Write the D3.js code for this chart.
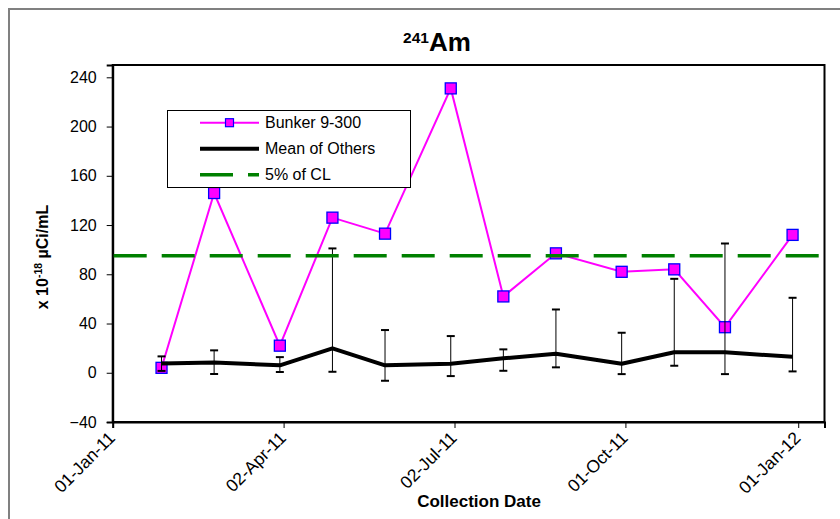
<!DOCTYPE html>
<html>
<head>
<meta charset="utf-8">
<script src="https://cdn.jsdelivr.net/npm/d3@7"></script>
<style>
  html, body { margin: 0; padding: 0; background: #fff; }
  svg { display: block; font-family: "Liberation Sans", Arial, sans-serif; }
</style>
</head>
<body>
<svg id="chart" width="840" height="519"></svg>
<script>
// ---- data ----
const sampleDates = ["27-Jan-11","24-Feb-11","31-Mar-11","28-Apr-11","26-May-11","30-Jun-11",
                     "28-Jul-11","25-Aug-11","29-Sep-11","27-Oct-11","23-Nov-11","29-Dec-11"];
const bunkerValues = [4, 146, 22, 126, 113, 231, 62, 97, 82, 84, 37, 112];
const meanOthers   = [7.6, 8.4, 6, 19.8, 6, 7.3, 11.7, 15.4, 7.3, 16.6, 16.6, 13];
const errLow       = [1.5, -1, 0.6, 0.8, -6.5, -2.7, 1.6, 4.4, -1.1, 5.7, -1.1, 1.1];
const errHigh      = [13.3, 18.2, 12.7, 101, 34.7, 29.8, 19, 51.4, 32.5, 76.3, 105, 60.9];
const clValue = 95;
const yTicks = [-40, 0, 40, 80, 120, 160, 200, 240];
const xTickLabels = ["01-Jan-11","02-Apr-11","02-Jul-11","01-Oct-11","01-Jan-12"];
const legendLabels = ["Bunker 9-300", "Mean of Others", "5% of CL"];

const parse = d3.utcParse("%d-%b-%y");
const fmt = d3.utcFormat("%d-%b-%y");

const svg = d3.select("#chart");
const pLeft = 112.7, pRight = 824.5, pTop = 65, pBottom = 422;

const x0 = parse("01-Jan-11");
const x1 = d3.utcDay.offset(x0, 379);
const x = d3.scaleUtc().domain([x0, x1]).range([pLeft, pRight]);
const y = d3.scaleLinear().domain([-40, 250]).range([pBottom, pTop]);

// outer chart frame
svg.append("rect").attr("x", 9).attr("y", 9).attr("width", 900).attr("height", 600)
  .attr("fill", "#fff").attr("stroke", "#808080").attr("stroke-width", 2);

// title
const title = svg.append("text").attr("x", 437).attr("y", 51)
  .attr("text-anchor", "middle").attr("font-weight", "bold");
title.append("tspan").attr("font-size", 15.5).attr("dy", -8).text("241");
title.append("tspan").attr("font-size", 26).attr("dy", 8).text("Am");

// plot frame
svg.append("rect").attr("x", pLeft).attr("y", pTop).attr("width", pRight - pLeft).attr("height", pBottom - pTop)
  .attr("fill", "none").attr("stroke", "#000").attr("stroke-width", 2);

// y axis
const yAxis = svg.append("g").attr("transform", `translate(${pLeft},0)`)
  .call(d3.axisLeft(y).tickValues(yTicks).tickSize(6).tickPadding(10).tickFormat(d3.format("d")));
yAxis.select(".domain").attr("stroke", "#000").attr("stroke-width", 2);
yAxis.selectAll(".tick line").attr("stroke", "#000").attr("stroke-width", 1);
yAxis.selectAll(".tick text").attr("font-size", 16).attr("fill", "#000")
  .attr("font-family", "Liberation Sans, Arial, sans-serif");

// x axis
const xAxis = svg.append("g").attr("transform", `translate(0,${pBottom})`)
  .call(d3.axisBottom(x).tickValues(xTickLabels.map(parse)).tickSize(6).tickFormat(fmt));
xAxis.select(".domain").attr("stroke", "#000").attr("stroke-width", 2);
xAxis.selectAll(".tick line").attr("stroke", "#000").attr("stroke-width", 1);
xAxis.selectAll(".tick text")
  .attr("font-size", 17.5).attr("fill", "#000")
  .attr("font-family", "Liberation Sans, Arial, sans-serif")
  .attr("text-anchor", "end")
  .attr("y", 0).attr("dy", 0)
  .attr("transform", "translate(3,17) rotate(-45)");

// axis titles
svg.append("text").attr("x", 479).attr("y", 507).attr("text-anchor", "middle")
  .attr("font-weight", "bold").attr("font-size", 17).text("Collection Date");
const ylab = svg.append("text").attr("transform", "translate(48,257) rotate(-90)")
  .attr("text-anchor", "middle").attr("font-weight", "bold").attr("font-size", 16);
ylab.append("tspan").text("x 10");
ylab.append("tspan").attr("font-size", 10.5).attr("dy", -6).text("-18");
ylab.append("tspan").attr("dy", 6).text(" \u00B5Ci/mL");

const pts = sampleDates.map((d, i) => ({
  date: parse(d), b: bunkerValues[i], m: meanOthers[i], lo: errLow[i], hi: errHigh[i]
}));

// Bunker series
svg.append("path").datum(pts)
  .attr("fill", "none").attr("stroke", "#FF00FF").attr("stroke-width", 2)
  .attr("d", d3.line().x(d => x(d.date)).y(d => y(d.b)));
const ms = 11;
svg.selectAll(".bmark").data(pts).enter().append("rect")
  .attr("x", d => x(d.date) - ms / 2).attr("y", d => y(d.b) - ms / 2)
  .attr("width", ms).attr("height", ms)
  .attr("fill", "#FF00FF").attr("stroke", "#0000FF").attr("stroke-width", 1.3);

// Mean of others
svg.append("path").datum(pts)
  .attr("fill", "none").attr("stroke", "#000").attr("stroke-width", 4)
  .attr("stroke-linejoin", "round")
  .attr("d", d3.line().x(d => x(d.date)).y(d => y(d.m)));
const eb = svg.append("g");
pts.forEach(d => {
  const cx = x(d.date);
  eb.append("line").attr("x1", cx).attr("x2", cx).attr("y1", y(d.lo)).attr("y2", y(d.hi))
    .attr("stroke", "#000").attr("stroke-width", 1);
  [d.lo, d.hi].forEach(v => {
    eb.append("line").attr("x1", cx - 4).attr("x2", cx + 4).attr("y1", y(v)).attr("y2", y(v))
      .attr("stroke", "#000").attr("stroke-width", 2);
  });
});

// 5% of CL
svg.append("line").attr("x1", pLeft + 1).attr("x2", pRight - 1).attr("y1", y(clValue)).attr("y2", y(clValue))
  .attr("stroke", "#008000").attr("stroke-width", 3.5).attr("stroke-dasharray", "33,15");

// legend
const lg = svg.append("g");
lg.append("rect").attr("x", 167.5).attr("y", 110.5).attr("width", 243).attr("height", 77)
  .attr("fill", "#fff").attr("stroke", "#000").attr("stroke-width", 1);
const ly = [122.7, 148.7, 174.7];
lg.append("line").attr("x1", 200).attr("x2", 259).attr("y1", ly[0]).attr("y2", ly[0])
  .attr("stroke", "#FF00FF").attr("stroke-width", 2);
lg.append("rect").attr("x", 225.5).attr("y", ly[0] - 4).attr("width", 8).attr("height", 8)
  .attr("fill", "#FF00FF").attr("stroke", "#0000FF").attr("stroke-width", 1.2);
lg.append("line").attr("x1", 200).attr("x2", 259).attr("y1", ly[1]).attr("y2", ly[1])
  .attr("stroke", "#000").attr("stroke-width", 4);
lg.append("line").attr("x1", 200).attr("x2", 259).attr("y1", ly[2]).attr("y2", ly[2])
  .attr("stroke", "#008000").attr("stroke-width", 3.5).attr("stroke-dasharray", "33,15");
legendLabels.forEach((t, i) => {
  lg.append("text").attr("x", 265).attr("y", ly[i]).attr("dy", "0.35em")
    .attr("font-size", 16).text(t);
});
</script>
</body>
</html>
